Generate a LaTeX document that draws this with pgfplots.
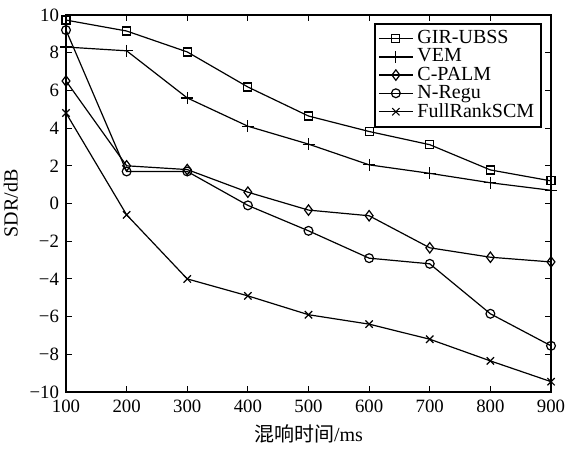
\documentclass[border=0pt]{standalone}
\usepackage{fontspec}
\setmainfont{Liberation Serif}
\newfontfamily\cjk{Noto Sans CJK SC}
\usepackage{pgfplots}
\pgfplotsset{compat=1.18}
\begin{document}
\fontsize{10}{12}\selectfont
\begin{tikzpicture}
\begin{axis}[
  scale only axis,
  width=242.5pt, height=188.5pt,
  xmin=100, xmax=900, ymin=-10, ymax=10,
  xtick={100,200,...,900}, ytick={-10,-8,...,10},
  yticklabels={−10,−8,−6,−4,−2,0,2,4,6,8,10},
  tick align=inside, tick pos=both,
  major tick length=3pt,
  axis line style={line width=1.1pt},
  tick style={line width=0.5pt, black},
  /pgf/number format/assume math mode=true,
  ticklabel style={font=\fontsize{9.4}{11}\selectfont},
  xticklabel style={yshift=-0.5pt},
  yticklabel style={xshift=0pt},
  xlabel={{\cjk 混响时间}/ms},
  ylabel={SDR/dB},
  label style={font=\fontsize{10}{12}\selectfont},
  xlabel style={yshift=1pt},
  ylabel style={yshift=-1pt},
  every axis plot/.append style={line width=0.6pt, black, mark options={solid, fill=white, line width=0.6pt}},
  legend style={at={(0.982,0.98)}, anchor=north east, draw=black, line width=1.1pt,
    font=\fontsize{10}{10}\selectfont, row sep=-3pt, inner sep=1.5pt,
    legend cell align=left},
  legend image code/.code={\draw[mark repeat=2, mark phase=2, #1, line width=0.6pt] plot coordinates {(0pt,0pt) (8.5pt,0pt) (17pt,0pt)};},
]
\addplot[mark=square, mark size=2pt] coordinates {(100,9.73) (200,9.15) (300,8.04) (400,6.18) (500,4.64) (600,3.82) (700,3.12) (800,1.78) (900,1.2)};
\addplot[mark=+, mark size=3pt] coordinates {(100,8.3) (200,8.1) (300,5.6) (400,4.1) (500,3.15) (600,2.05) (700,1.6) (800,1.1) (900,0.7)};
\addplot[mark=diamond, mark size=2.6pt] coordinates {(100,6.5) (200,2.0) (300,1.8) (400,0.6) (500,-0.35) (600,-0.65) (700,-2.35) (800,-2.85) (900,-3.1)};
\addplot[mark=o, mark size=2.2pt] coordinates {(100,9.2) (200,1.7) (300,1.7) (400,-0.1) (500,-1.45) (600,-2.9) (700,-3.2) (800,-5.85) (900,-7.55)};
\addplot[mark=x, mark size=2.6pt] coordinates {(100,4.8) (200,-0.6) (300,-4.0) (400,-4.9) (500,-5.9) (600,-6.4) (700,-7.2) (800,-8.35) (900,-9.45)};
\legend{GIR-UBSS, VEM, C-PALM, N-Regu, FullRankSCM}
\coordinate (ll) at (rel axis cs:0,0);
\coordinate (ur) at (rel axis cs:1,1);
\end{axis}
\pgfresetboundingbox
\path ([shift={(-33pt,-30.5pt)}]ll) rectangle ([shift={(10.5pt,7.5pt)}]ur);
\end{tikzpicture}
\end{document}
